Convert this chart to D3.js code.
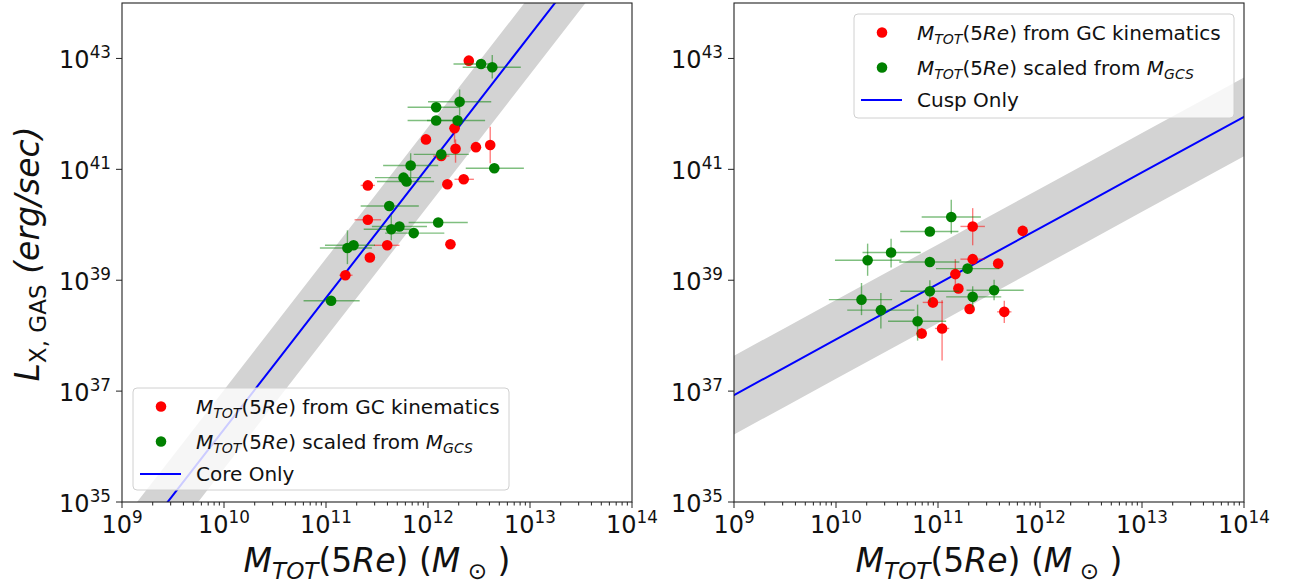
<!DOCTYPE html>
<html>
<head>
<meta charset="utf-8">
<script src="https://cdn.jsdelivr.net/npm/d3@7"></script>
<style>
  html, body { margin: 0; padding: 0; background: #fff; }
  svg { display: block; font-family: "DejaVu Sans", sans-serif; }
  text { white-space: pre; }
</style>
</head>
<body>
<svg id="fig" width="1289" height="583"></svg>
<script>
// ---------- data (log10 of total mass in Msun, log10 of X-ray gas luminosity in erg/s) ----------
// Left panel: core-only fit
const coreKinLogM = [12.40, 12.26, 11.98, 12.27, 12.47, 12.61, 12.13, 11.41, 12.19, 12.35, 11.41, 11.60, 12.22, 11.43, 11.19];
const coreKinLogL = [42.96, 41.74, 41.54, 41.37, 41.40, 41.44, 41.24, 40.71, 40.73, 40.82, 40.09, 39.63, 39.65, 39.41, 39.09];
const coreKinErrM = [[0,0],[0.05,0.05],[0,0],[0.04,0.04],[0,0],[0,0],[0.08,0.08],[0.07,0.07],[0,0],[0.09,0.10],[0.13,0.13],[0.13,0.12],[0,0],[0.04,0.04],[0.06,0.07]];
const coreKinErrL = [[0,0],[0.26,0.10],[0,0],[0.25,0.17],[0,0],[0.33,0.33],[0.04,0.04],[0.04,0.04],[0,0],[0.03,0.03],[0.03,0.03],[0.03,0.03],[0,0],[0,0],[0.05,0.05]];

const coreGcsLogM = [12.52, 12.63, 12.31, 12.08, 12.08, 12.29, 12.13, 12.65, 11.83, 11.76, 11.79, 11.62, 12.10, 11.72, 11.64, 11.86, 11.27, 11.21, 11.05];
const coreGcsLogL = [42.90, 42.84, 42.22, 42.12, 41.88, 41.88, 41.27, 41.02, 41.07, 40.85, 40.78, 40.34, 40.04, 39.97, 39.92, 39.85, 39.63, 39.58, 38.63];
const coreGcsErrM = [[0.27,0.11],[0.29,0.28],[0.31,0.31],[0.28,0.23],[0.28,0.20],[0.30,0.27],[0.27,0.27],[0.28,0.29],[0.27,0.27],[0.28,0.27],[0.29,0.27],[0.28,0.29],[0.29,0.29],[0.27,0.27],[0.27,0.25],[0.28,0.30],[0.28,0.21],[0.27,0.24],[0.27,0.28]];
const coreGcsErrL = [[0.05,0.05],[0.20,0.22],[0.25,0.22],[0,0],[0,0],[0.10,0.10],[0.10,0.10],[0,0],[0.22,0.22],[0,0],[0,0],[0,0],[0,0],[0.05,0.05],[0.20,0.25],[0,0],[0,0],[0.29,0.32],[0,0]];

// Right panel: cusp-only fit
const cuspKinLogM = [11.34, 11.83, 11.34, 11.59, 11.17, 11.20, 10.95, 11.31, 11.65, 11.04, 10.84];
const cuspKinLogL = [39.97, 39.89, 39.38, 39.30, 39.11, 38.85, 38.60, 38.48, 38.43, 38.13, 38.04];
const cuspKinErrM = [[0.12,0.12],[0,0],[0.12,0.12],[0,0],[0,0],[0,0],[0.10,0.10],[0,0],[0.07,0.07],[0.07,0.07],[0.05,0.05]];
const cuspKinErrL = [[0.34,0.33],[0,0],[0.03,0.03],[0,0],[0.30,0.27],[0,0],[0.10,0.10],[0,0],[0.20,0.20],[0.58,0.51],[0.10,0.10]];

const cuspGcsLogM = [11.13, 10.92, 10.54, 10.31, 10.92, 11.29, 10.92, 11.55, 11.34, 10.25, 10.44, 10.80];
const cuspGcsLogL = [40.14, 39.88, 39.50, 39.36, 39.33, 39.21, 38.80, 38.82, 38.70, 38.65, 38.46, 38.26];
const cuspGcsErrM = [[0.29,0.29],[0.29,0.28],[0.28,0.29],[0.32,0.33],[0.30,0.29],[0.31,0.31],[0.29,0.29],[0.27,0.29],[0.26,0.28],[0.32,0.30],[0.33,0.33],[0.29,0.28]];
const cuspGcsErrL = [[0.30,0.31],[0,0],[0.27,0.25],[0.28,0.30],[0,0],[0,0],[0.20,0.20],[0.18,0.19],[0.19,0.19],[0.28,0.30],[0.33,0.31],[0.35,0.30]];

// Fits: log L = a + b (log M - 12), shaded band +/- scatter dex
const coreFit = { a: 41.05, b: 2.37, scatter: 0.71 };
const cuspFit = { a: 39.94, b: 1.004, scatter: 0.71 };

// Axis ticks (decade exponents)
const xTickExp = [9, 10, 11, 12, 13, 14];
const yTickExp = [35, 37, 39, 41, 43];
const xDomain = [1e9, 1e14];
const yDomain = [1e35, 1e44];

const legendKinLabel = [{t:"M",i:1},{t:"TOT",i:1,sub:1},{t:"(5"},{t:"Re",i:1},{t:") from GC kinematics"}];
const legendGcsLabel = [{t:"M",i:1},{t:"TOT",i:1,sub:1},{t:"(5"},{t:"Re",i:1},{t:") scaled from "},{t:"M",i:1},{t:"GCS",i:1,sub:1}];
const xLabel = [{t:"M",i:1},{t:"TOT",i:1,sub:1},{t:"(5"},{t:"Re",i:1},{t:") ("},{t:"M",i:1},{t:" \u2299",sub:1},{t:" )"}];
const yLabel = [{t:"L",i:1},{t:"X, GAS",sub:1},{t:" (erg/sec)",i:1}];

// ---------- drawing ----------
const svg = d3.select("#fig");
svg.append("rect").attr("width", 1289).attr("height", 583).attr("fill", "#fff");

const RED = "#ff0000", GREEN = "#008000", BLUE = "#0000ff";
const TICK_FONT = 24, LABEL_FONT = 33, LEGEND_FONT = 20;

// Renders mathtext-like runs (italic / subscript / superscript) into one <text>
function richText(sel, segs, size) {
  let shift = 0;
  segs.forEach(s => {
    const target = s.sub ? size * 0.22 : s.sup ? -size * 0.42 : 0;
    sel.append("tspan")
      .attr("dy", target - shift)
      .attr("font-size", (s.sub || s.sup) ? size * 0.7 : size)
      .attr("font-style", s.i ? "italic" : "normal")
      .text(s.t);
    shift = target;
  });
  return sel;
}

function panel(opts) {
  const { left, top, width, height } = opts;
  const x = d3.scaleLog().domain(xDomain).range([left, left + width]);
  const y = d3.scaleLog().domain(yDomain).range([top + height, top]);
  const g = svg.append("g");
  const clipId = "clip" + opts.id;
  g.append("clipPath").attr("id", clipId)
    .append("rect").attr("x", left).attr("y", top).attr("width", width).attr("height", height);
  const plot = g.append("g").attr("clip-path", `url(#${clipId})`);

  // fit band and line
  const fit = opts.fit;
  const lm = d3.range(8.5, 14.51, 0.5);
  const fitL = m => fit.a + fit.b * (m - 12);
  const area = d3.area()
    .x(m => x(Math.pow(10, m)))
    .y0(m => y(Math.pow(10, fitL(m) - fit.scatter)))
    .y1(m => y(Math.pow(10, fitL(m) + fit.scatter)));
  plot.append("path").datum(lm).attr("d", area).attr("fill", "#d3d3d3");
  const line = d3.line().x(m => x(Math.pow(10, m))).y(m => y(Math.pow(10, fitL(m))));
  plot.append("path").datum(lm).attr("d", line).attr("fill", "none")
    .attr("stroke", BLUE).attr("stroke-width", 2);

  // error bars + markers for one series
  function series(lmArr, llArr, em, el, color) {
    const pts = lmArr.map((m, i) => ({ m, l: llArr[i], em: em[i], el: el[i] }));
    const eb = plot.append("g").attr("stroke", color).attr("stroke-opacity", 0.5).attr("stroke-width", 1.4);
    pts.forEach(p => {
      if (p.em[0] + p.em[1] > 0)
        eb.append("line")
          .attr("x1", x(Math.pow(10, p.m - p.em[0]))).attr("x2", x(Math.pow(10, p.m + p.em[1])))
          .attr("y1", y(Math.pow(10, p.l))).attr("y2", y(Math.pow(10, p.l)));
      if (p.el[0] + p.el[1] > 0)
        eb.append("line")
          .attr("x1", x(Math.pow(10, p.m))).attr("x2", x(Math.pow(10, p.m)))
          .attr("y1", y(Math.pow(10, p.l - p.el[0]))).attr("y2", y(Math.pow(10, p.l + p.el[1])));
    });
    plot.append("g").selectAll("circle").data(pts).join("circle")
      .attr("cx", p => x(Math.pow(10, p.m))).attr("cy", p => y(Math.pow(10, p.l)))
      .attr("r", 5.3).attr("fill", color);
  }
  series(opts.kin[0], opts.kin[1], opts.kin[2], opts.kin[3], RED);
  series(opts.gcs[0], opts.gcs[1], opts.gcs[2], opts.gcs[3], GREEN);

  // frame
  g.append("rect").attr("x", left).attr("y", top).attr("width", width).attr("height", height)
    .attr("fill", "none").attr("stroke", "#222").attr("stroke-width", 1.1);

  // x ticks (major + minor)
  const ax = g.append("g").attr("stroke", "#222").attr("stroke-width", 1);
  xTickExp.forEach(e => {
    const px = x(Math.pow(10, e));
    ax.append("line").attr("x1", px).attr("x2", px).attr("y1", top + height).attr("y2", top + height + 6);
    const t = g.append("text").attr("x", px).attr("y", top + height + 31)
      .attr("text-anchor", "middle").attr("fill", "#111");
    richText(t, [{ t: "10" }, { t: String(e), sup: 1 }], TICK_FONT);
  });
  for (let e = xTickExp[0]; e < xTickExp[xTickExp.length - 1]; e++) {
    for (let k = 2; k <= 9; k++) {
      const px = x(k * Math.pow(10, e));
      ax.append("line").attr("x1", px).attr("x2", px).attr("y1", top + height).attr("y2", top + height + 3.5);
    }
  }
  // y ticks
  yTickExp.forEach(e => {
    const py = y(Math.pow(10, e));
    ax.append("line").attr("x1", left - 6).attr("x2", left).attr("y1", py).attr("y2", py);
    const t = g.append("text").attr("x", left - 11).attr("y", py + 10)
      .attr("text-anchor", "end").attr("fill", "#111");
    richText(t, [{ t: "10" }, { t: String(e), sup: 1 }], TICK_FONT);
  });

  // x label
  richText(g.append("text").attr("x", left + width / 2).attr("y", 572)
    .attr("text-anchor", "middle").attr("fill", "#111"), xLabel, LABEL_FONT);

  // legend
  const L = opts.legend;
  const lg = g.append("g");
  lg.append("rect").attr("x", L.x).attr("y", L.y).attr("width", L.w).attr("height", L.h)
    .attr("rx", 4).attr("fill", "#fff").attr("fill-opacity", 0.8)
    .attr("stroke", "#d0d0d0").attr("stroke-width", 1);
  const rows = [L.y + 18.5, L.y + 53.5, L.y + 86];
  lg.append("circle").attr("cx", L.x + 28).attr("cy", rows[0]).attr("r", 5.3).attr("fill", RED);
  lg.append("circle").attr("cx", L.x + 28).attr("cy", rows[1]).attr("r", 5.3).attr("fill", GREEN);
  lg.append("line").attr("x1", L.x + 7).attr("x2", L.x + 48).attr("y1", rows[2]).attr("y2", rows[2])
    .attr("stroke", BLUE).attr("stroke-width", 2);
  richText(lg.append("text").attr("x", L.x + 63).attr("y", rows[0] + 7).attr("fill", "#111"), legendKinLabel, LEGEND_FONT);
  richText(lg.append("text").attr("x", L.x + 63).attr("y", rows[1] + 7).attr("fill", "#111"), legendGcsLabel, LEGEND_FONT);
  lg.append("text").attr("x", L.x + 63).attr("y", rows[2] + 7).attr("fill", "#111")
    .attr("font-size", LEGEND_FONT).text(opts.fitName);
}

panel({ id: "L", left: 122, top: 3, width: 510, height: 499,
  fit: coreFit, fitName: "Core Only",
  kin: [coreKinLogM, coreKinLogL, coreKinErrM, coreKinErrL],
  gcs: [coreGcsLogM, coreGcsLogL, coreGcsErrM, coreGcsErrL],
  legend: { x: 133, y: 388, w: 376, h: 102 } });

panel({ id: "R", left: 734, top: 3, width: 510, height: 499,
  fit: cuspFit, fitName: "Cusp Only",
  kin: [cuspKinLogM, cuspKinLogL, cuspKinErrM, cuspKinErrL],
  gcs: [cuspGcsLogM, cuspGcsLogL, cuspGcsErrM, cuspGcsErrL],
  legend: { x: 854, y: 14, w: 380, h: 104 } });

// y label (left panel only)
richText(svg.append("text")
  .attr("transform", "translate(39,254) rotate(-90)")
  .attr("text-anchor", "middle").attr("fill", "#111"), yLabel, LABEL_FONT);
</script>
</body>
</html>
